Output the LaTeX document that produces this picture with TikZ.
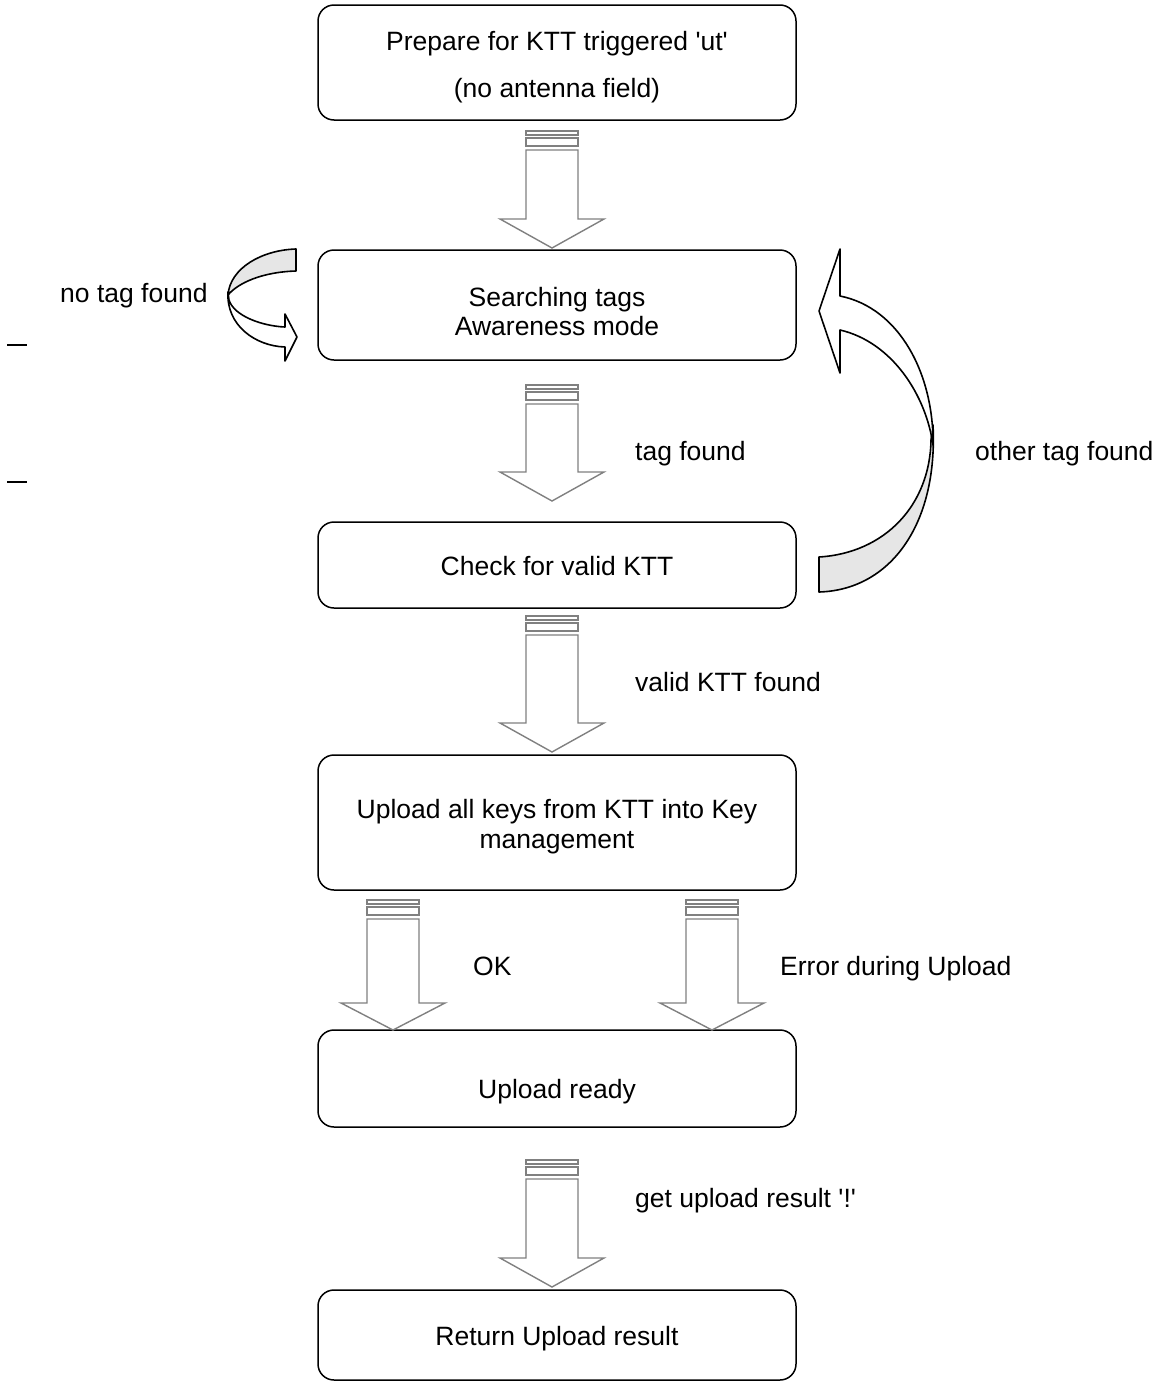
\documentclass[tikz,border=0pt]{standalone}
\usepackage{fontspec}
\setmainfont{Liberation Sans}[Ligatures=TeXOff]
\definecolor{arrgray}{RGB}{128,128,128}
\definecolor{facegray}{RGB}{230,230,230}
\begin{document}
\begin{tikzpicture}[x=1pt,y=-1pt,
  box/.style={draw=black,line width=1.5pt,rounded corners=16pt,minimum width=478pt,inner sep=0pt},
  txt/.style={font=\fontsize{26.5}{30}\selectfont,inner sep=0pt,anchor=base},
  lbl/.style={font=\fontsize{26.5}{30}\selectfont,inner sep=0pt,anchor=base west},
  blk/.style={draw=arrgray,line width=1.4pt,fill=white},
  curv/.style={draw=black,line width=1.6pt,line join=round}]
\useasboundingbox (0,0) rectangle (1159,1387);
\newcommand{\blockarrow}[4]{% x, ytop, headtop, tip
  \draw[blk] (#1-26,#2) rectangle (#1+26,#2+4);
  \draw[blk] (#1-26,#2+7) rectangle (#1+26,#2+15);
  \draw[blk] (#1-26,#2+19) -- (#1-26,#3) -- (#1-52,#3) -- (#1,#4) -- (#1+52,#3) -- (#1+26,#3) -- (#1+26,#2+19) -- cycle;
}
% boxes
\node[box,minimum height=115pt] (b1) at (557,62.5) {};
\node[box,minimum height=110pt] (b2) at (557,305) {};
\node[box,minimum height=86pt] (b3) at (557,565) {};
\node[box,minimum height=135pt] (b4) at (557,822.5) {};
\node[box,minimum height=97pt] (b5) at (557,1078.5) {};
\node[box,minimum height=90pt] (b6) at (557,1335) {};
% box texts
\node[txt] (t1a) at (557,50) {Prepare for KTT triggered 'ut'};
\node[txt] (t1b) at (557,97) {(no antenna field)};
\node[txt] (t2a) at (557,306) {Searching tags};
\node[txt] (t2b) at (557,335) {Awareness mode};
\node[txt] (t3) at (557,575) {Check for valid KTT};
\node[txt] (t4a) at (557,818) {Upload all keys from KTT into Key};
\node[txt] (t4b) at (557,848) {management};
\node[txt] (t5) at (557,1098) {Upload ready};
\node[txt] (t6) at (557,1345) {Return Upload result};
% block arrows
\blockarrow{552}{131}{219}{248}
\blockarrow{552}{385}{472}{501}
\blockarrow{552}{616}{723}{752}
\blockarrow{393}{900}{1003}{1030}
\blockarrow{712}{900}{1003}{1030}
\blockarrow{552}{1160}{1258}{1287}
% labels
\node[lbl] (l1) at (635,460) {tag found};
\node[lbl] (l2) at (635,691) {valid KTT found};
\node[lbl] (l3) at (473,975) {OK};
\node[lbl] (l4) at (780,975) {Error during Upload};
\node[lbl] (l5) at (635,1207) {get upload result '!'};
\node[lbl] (l6) at (60,302) {no tag found};
\node[lbl] (l7) at (975,460) {other tag found};
% left curved arrow (no tag found)
\draw[curv,fill=facegray] (296,249) .. controls (262,250) and (230,268) .. (228,295)
  .. controls (238,283) and (262,272) .. (296,271) -- cycle;
\draw[curv,fill=white] (228,292) .. controls (226,325) and (255,346) .. (285,347)
  -- (285,361) -- (297,337) -- (285,314) -- (285,327)
  .. controls (262,326) and (234,316) .. (229,300) -- cycle;
% right curved arrow (other tag found)
\draw[curv,fill=facegray] (933,425) .. controls (938,525) and (890,590) .. (819,592)
  -- (819,557) .. controls (885,553) and (930,505) .. (931,440) -- cycle;
\draw[curv,fill=white] (840,296) .. controls (900,308) and (934,375) .. (933,445)
  .. controls (926,395) and (892,342) .. (840,330)
  -- (840,373) -- (819,311) -- (840,249) -- cycle;
% small marks at left
\draw[line width=2pt] (7,345) -- (27,345);
\draw[line width=2pt] (7,482) -- (27,482);
\end{tikzpicture}
\end{document}
